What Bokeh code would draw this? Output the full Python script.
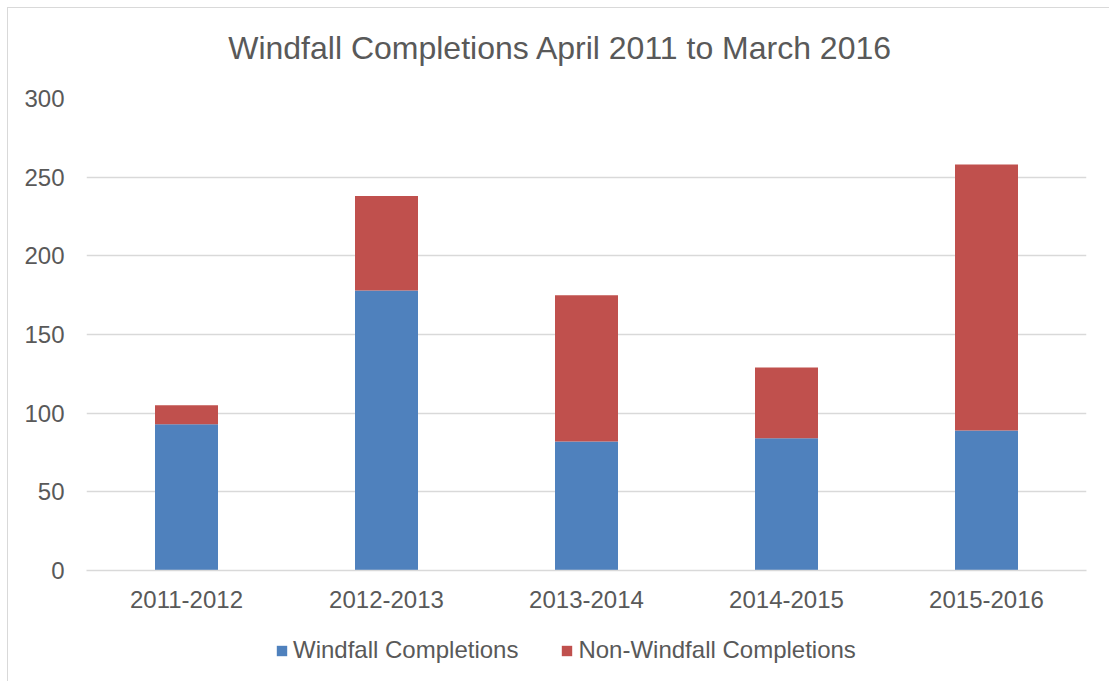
from bokeh.plotting import figure
from bokeh.layouts import column
from bokeh.models import ColumnDataSource, Legend, LegendItem, Range1d, FixedTicker, Label
from bokeh.embed import file_html
from bokeh.resources import INLINE

title_text = "Windfall Completions April 2011 to March 2016"
periods = ["2011-2012", "2012-2013", "2013-2014", "2014-2015", "2015-2016"]
windfall = [93, 178, 82, 84, 89]
non_windfall = [12, 60, 93, 45, 169]
series = ["Windfall Completions", "Non-Windfall Completions"]
colors = ["#4f81bd", "#c0504d"]
y_ticks = [0, 50, 100, 150, 200, 250, 300]

FONT = "Liberation Sans"
TXT = "#595959"


def strip(height):
    f = figure(width=1101, height=height, x_range=Range1d(0, 1), y_range=Range1d(0, 1),
               output_backend="svg", toolbar_location=None, min_border=0,
               x_axis_location=None, y_axis_location=None)
    f.grid.visible = False
    f.outline_line_color = None
    return f


# title strip (its frame lines up with the chart frame, which starts 78px in)
tf = strip(78)
tf.add_layout(Label(x=474, y=39, x_units="screen", y_units="screen", text=title_text,
                    text_align="center", text_baseline="middle", text_font=FONT,
                    text_font_size="32px", text_color=TXT))

# main chart
src = ColumnDataSource(dict(period=periods, w=windfall, nw=non_windfall))
p = figure(x_range=periods, y_range=Range1d(0, 300), frame_width=1000, frame_height=472,
           output_backend="svg", toolbar_location=None,
           min_border_left=78, min_border_right=23, min_border_top=12, min_border_bottom=50)

r = p.vbar_stack(["w", "nw"], x="period", width=0.315, source=src,
                 color=colors, line_color=None)

p.outline_line_color = None
p.xgrid.grid_line_color = None
p.ygrid.grid_line_color = "#d9d9d9"
p.ygrid.grid_line_width = 1.3
p.yaxis.ticker = FixedTicker(ticks=y_ticks)

for ax in (p.xaxis, p.yaxis):
    ax.major_tick_line_color = None
    ax.minor_tick_line_color = None
    ax.major_label_text_font = FONT
    ax.major_label_text_font_size = "24px"
    ax.major_label_text_color = TXT
p.yaxis.axis_line_color = None
p.yaxis.major_label_standoff = 16
p.xaxis.axis_line_color = "#d9d9d9"
p.xaxis.axis_line_width = 1.3
p.xaxis.major_label_standoff = 14

# legend strip below the chart (zero-height stand-in bars only carry the colours)
lg = strip(61)
dummy = [lg.vbar(x=[0.5], top=[0], bottom=[0], width=0.1, fill_color=c, line_color=None)
         for c in colors]
legend = Legend(items=[LegendItem(label=series[i], renderers=[dummy[i]]) for i in range(2)],
                orientation="horizontal", location=(189, 17))
legend.label_text_font = FONT
legend.label_text_font_size = "24px"
legend.label_text_color = TXT
legend.glyph_width = 13
legend.glyph_height = 13
legend.spacing = 42
legend.label_standoff = 5
legend.padding = 0
legend.margin = 0
legend.border_line_color = None
legend.background_fill_alpha = 0
lg.add_layout(legend)

layout = column(tf, p, lg, spacing=0)
layout.styles = {"border-left": "1px solid #d9d9d9", "border-top": "1px solid #d9d9d9",
                 "margin-left": "7px", "margin-top": "7px"}

open("out.html", "w").write(file_html(layout, INLINE))
